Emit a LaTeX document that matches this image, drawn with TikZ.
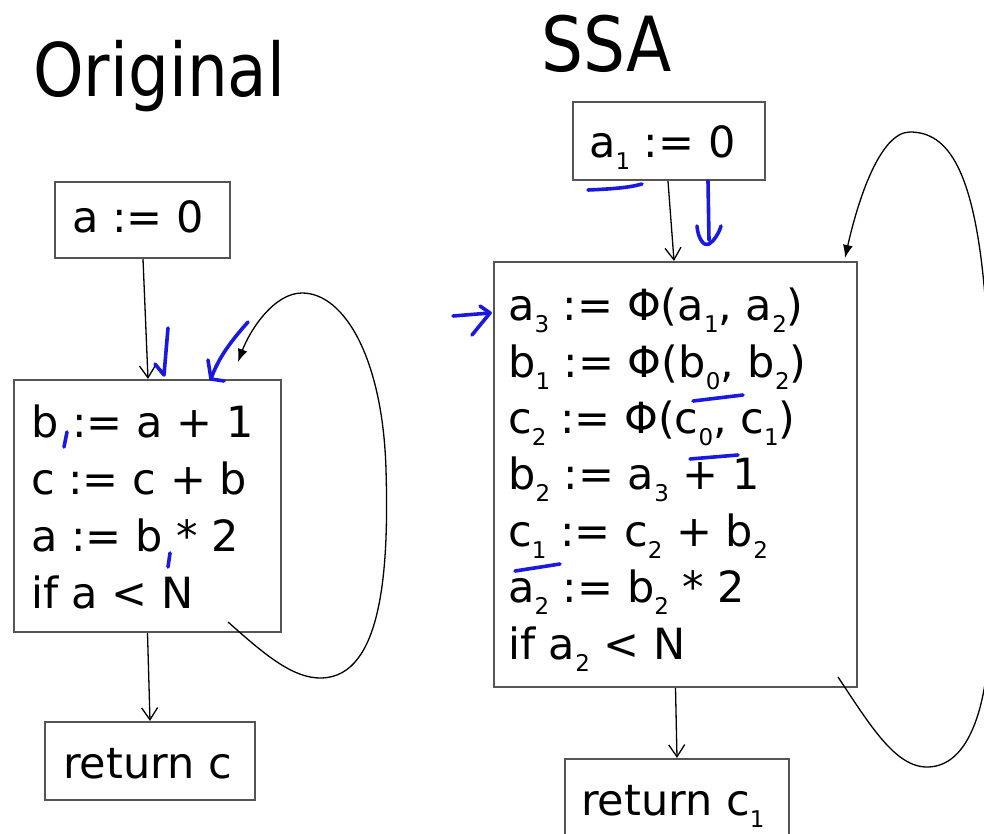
\documentclass[tikz,border=0pt]{standalone}
\usepackage{fontspec}
\setmainfont{DejaVu Sans}
\newfontfamily\titlefont[FakeStretch=0.87]{DejaVu Sans}
\usetikzlibrary{arrows.meta}
\definecolor{ink}{RGB}{25,25,225}
\definecolor{boxgray}{RGB}{85,85,85}
\newcommand{\sbs}[1]{\raisebox{-12pt}{\fontsize{23}{23}\selectfont #1}}
\tikzset{
  box/.style={draw=boxgray, line width=2.2pt, inner sep=0pt},
  code/.style={anchor=base west, inner sep=0pt, font=\fontsize{43}{50}\selectfont},
  title/.style={anchor=base west, inner sep=0pt, font=\titlefont\fontsize{74}{80}\selectfont},
  flow/.style={line width=1.3pt, -{Straight Barb[length=12pt,width=16pt]}},
  backloop/.style={line width=1.3pt, -{Latex[length=13pt,width=10pt]}},
  inkmark/.style={draw=ink, line width=3.6pt, line cap=round, line join=round},
}
\begin{document}
\begin{tikzpicture}[x=1pt,y=-1pt]
\useasboundingbox (0,0) rectangle (984,834);

% titles
\node[title] (torig) at (33,97) {Original};
\node[title, font=\titlefont\fontsize{76}{80}\selectfont] (tssa) at (541,72) {SSA};

% ---------- Original ----------
\node[box, minimum width=175pt, minimum height=76pt] (LA) at (142.5,220) {};
\node[box, minimum width=267pt, minimum height=252pt] (LB) at (147.5,506) {};
\node[box, minimum width=210pt, minimum height=78pt] (LC) at (150,761) {};

\node[code] (la1) at (72,233) {a := 0};
\node[code] (lb1) at (31,437) {b := a + 1};
\node[code] (lb2) at (31,494) {c := c + b};
\node[code] (lb3) at (31,551) {a := b * 2};
\node[code] (lb4) at (31,608) {if a < N};
\node[code] (lc1) at (63,778) {return c};

\draw[flow] ([xshift=0.5pt]LA.south) -- ([xshift=0.5pt]LB.north);
\draw[flow] (LB.south) -- (LC.north);
\coordinate (ls) at (228,622);
\coordinate (le) at (238,362);
\draw[backloop] (ls) .. controls (262,652) and (292,679) .. (322,678)
  .. controls (382,676) and (389,570) .. (386,470)
  .. controls (383,360) and (345,293) .. (302,293)
  .. controls (274,293) and (250,330) .. (le);

% ---------- SSA ----------
\node[box, minimum width=192pt, minimum height=78pt] (RA) at (669,141) {};
\node[box, minimum width=363pt, minimum height=425pt] (RB) at (675.5,474.5) {};
\node[box, minimum width=224pt, minimum height=84pt] (RC) at (677,801) {};

\node[code] (ra1) at (589,158) {a\sbs{1} := 0};
\node[code] (rb1) at (508,320) {a\sbs{3} := Φ(a\sbs{1}, a\sbs{2})};
\node[code] (rb2) at (508,377) {b\sbs{1} := Φ(b\sbs{0}, b\sbs{2})};
\node[code] (rb3) at (508,433) {c\sbs{2} := Φ(c\sbs{0}, c\sbs{1})};
\node[code] (rb4) at (508,489) {b\sbs{2} := a\sbs{3} + 1};
\node[code] (rb5) at (508,546) {c\sbs{1} := c\sbs{2} + b\sbs{2}};
\node[code] (rb6) at (508,602) {a\sbs{2} := b\sbs{2} * 2};
\node[code] (rb7) at (508,659) {if a\sbs{2} < N};
\node[code] (rc1) at (581,815) {return c\sbs{1}};

\draw[flow] ([xshift=-1pt]RA.south) -- ([xshift=-1.5pt]RB.north);
\draw[flow] (RB.south) -- (RC.north);
\coordinate (rs) at (838,677);
\coordinate (re) at (845,258);
\draw[backloop] (rs) .. controls (870,725) and (895,767) .. (927,767)
  .. controls (962,767) and (982,725) .. (988,660)
  .. controls (996,560) and (995,400) .. (984,285)
  .. controls (973,170) and (948,132) .. (910,132)
  .. controls (880,132) and (858,200) .. (re);

% ---------- blue annotations ----------
\draw[inkmark] (168,328) -- (164,375) -- (155,364);
\draw[inkmark] (248,322) .. controls (232,340) and (218,358) .. (211,379);
\draw[inkmark] (208,360) -- (211,379) -- (224,381);
\draw[inkmark] (67,432) -- (64,447);
\draw[inkmark] (170,553) -- (168,567);

\draw[inkmark] (588,190) .. controls (610,189) and (628,188) .. (642,184);
\draw[inkmark] (708,181) -- (709,240);
\draw[inkmark] (697,226) .. controls (698,240) and (705,247) .. (709,244)
  .. controls (714,241) and (719,233) .. (721,226);
\draw[inkmark] (453,316) -- (490,313);
\draw[inkmark] (480,306) -- (490,313) -- (472,335);
\draw[inkmark] (693,401) -- (743,395);
\draw[inkmark] (690,459) -- (738,455);
\draw[inkmark] (515,571) -- (560,564);
\end{tikzpicture}
\end{document}
